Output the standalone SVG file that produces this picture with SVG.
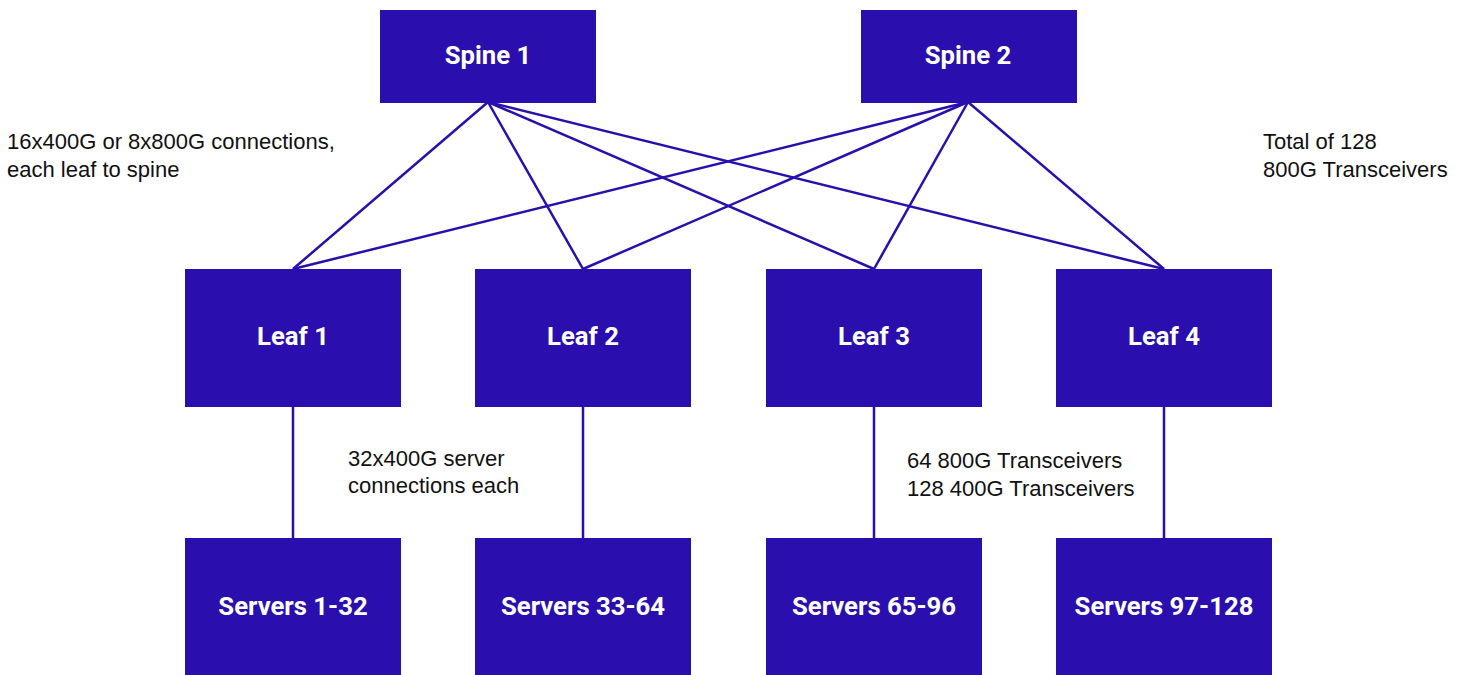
<svg xmlns="http://www.w3.org/2000/svg" width="1468" height="675" viewBox="0 0 1468 675">
<style>
.box{fill:#2a0fae}
.lbl{font-family:Roboto,"Liberation Sans",sans-serif;font-weight:700;font-size:25.7px;fill:#fff;text-anchor:middle}
.note{font-family:"Liberation Sans",Arial,sans-serif;font-size:22px;fill:#111}
.con{stroke:#2a0fae;stroke-width:2.5;fill:none}
</style>
<rect width="1468" height="675" fill="#fff"/>
<g id="connectors">
<line class="con" x1="488" y1="102" x2="293" y2="269"/>
<line class="con" x1="488" y1="102" x2="583" y2="269"/>
<line class="con" x1="488" y1="102" x2="874" y2="269"/>
<line class="con" x1="488" y1="102" x2="1164" y2="269"/>
<line class="con" x1="968" y1="102" x2="293" y2="269"/>
<line class="con" x1="968" y1="102" x2="583" y2="269"/>
<line class="con" x1="968" y1="102" x2="874" y2="269"/>
<line class="con" x1="968" y1="102" x2="1164" y2="269"/>
<line class="con" x1="293" y1="407" x2="293" y2="538"/>
<line class="con" x1="583" y1="407" x2="583" y2="538"/>
<line class="con" x1="874" y1="407" x2="874" y2="538"/>
<line class="con" x1="1164" y1="407" x2="1164" y2="538"/>
</g>
<g id="spine1"><rect class="box" x="380" y="10" width="216" height="93"/><text class="lbl" x="488" y="64">Spine 1</text></g>
<g id="spine2"><rect class="box" x="861" y="10" width="216" height="93"/><text class="lbl" x="968" y="64">Spine 2</text></g>
<g id="leaf1"><rect class="box" x="185" y="269" width="216" height="138"/><text class="lbl" x="293" y="345">Leaf 1</text></g>
<g id="leaf2"><rect class="box" x="475" y="269" width="216" height="138"/><text class="lbl" x="583" y="345">Leaf 2</text></g>
<g id="leaf3"><rect class="box" x="766" y="269" width="216" height="138"/><text class="lbl" x="874" y="345">Leaf 3</text></g>
<g id="leaf4"><rect class="box" x="1056" y="269" width="216" height="138"/><text class="lbl" x="1164" y="345">Leaf 4</text></g>
<g id="servers1"><rect class="box" x="185" y="538" width="216" height="137"/><text class="lbl" x="293" y="615">Servers 1-32</text></g>
<g id="servers2"><rect class="box" x="475" y="538" width="216" height="137"/><text class="lbl" x="583" y="615">Servers 33-64</text></g>
<g id="servers3"><rect class="box" x="766" y="538" width="216" height="137"/><text class="lbl" x="874" y="615">Servers 65-96</text></g>
<g id="servers4"><rect class="box" x="1056" y="538" width="216" height="137"/><text class="lbl" x="1164" y="615">Servers 97-128</text></g>
<g id="notes">
<text class="note" x="7" y="149">16x400G or 8x800G connections,</text>
<text class="note" x="7" y="177">each leaf to spine</text>
<text class="note" x="1263" y="149">Total of 128</text>
<text class="note" x="1263" y="177">800G Transceivers</text>
<text class="note" x="348" y="466">32x400G server</text>
<text class="note" x="348" y="493">connections each</text>
<text class="note" x="907" y="468">64 800G Transceivers</text>
<text class="note" x="907" y="496">128 400G Transceivers</text>
</g>
</svg>
